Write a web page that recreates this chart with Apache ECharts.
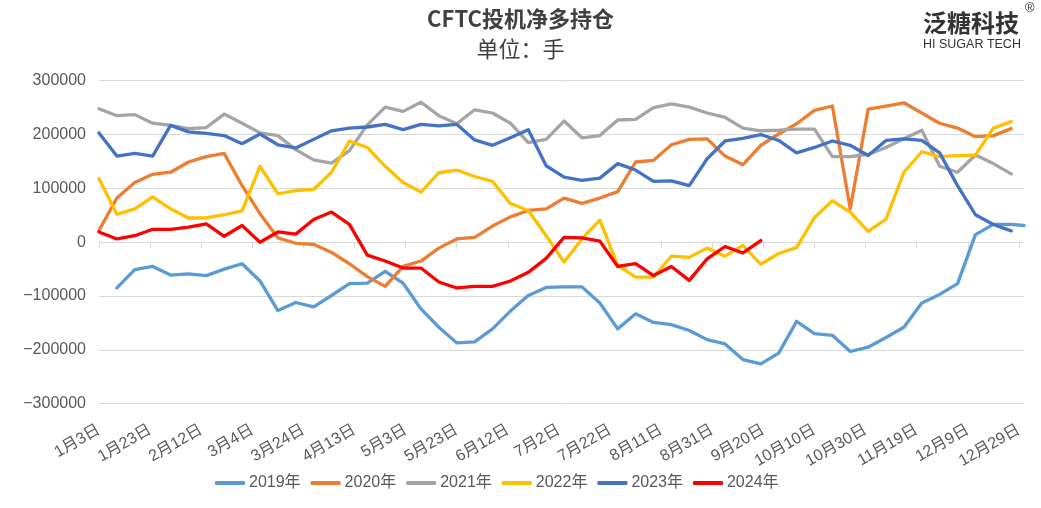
<!DOCTYPE html>
<html>
<head>
<meta charset="utf-8">
<script src="https://cdn.jsdelivr.net/npm/echarts@6/dist/echarts.min.js"></script>
<style>
html,body{margin:0;padding:0;background:#fff;}
#chart{width:1041px;height:508px;}
</style>
</head>
<body>
<div id="chart"></div>
<script>
// ---- data (day offsets from 1月3日; weekly reports) ----
const weekIndex = Array.from({length: 52}, (_, i) => i);
const weekDay = weekIndex.map(i => i * 7);
const extraDay2019 = 362;

const tickDays = [0,20,40,60,80,100,120,140,160,180,200,220,240,260,280,300,320,340,360];
const tickLabels = ['1月3日','1月23日','2月12日','3月4日','3月24日','4月13日','5月3日','5月23日','6月12日','7月2日','7月22日','8月11日','8月31日','9月20日','10月10日','10月30日','11月19日','12月9日','12月29日'];

const years = ['2019年','2020年','2021年','2022年','2023年','2024年'];

// 2019 starts at the 2nd week, and has one extra point at the end
const v2019 = [null,-85000,-51000,-45000,-61000,-59000,-62000,-50000,-40000,-72000,-127000,-112000,-120000,-99000,-77000,-76000,-54000,-76000,-124000,-158000,-187000,-185000,-161000,-128000,-99000,-84000,-83000,-83000,-113000,-161000,-133000,-149000,-153000,-164000,-181000,-189000,-218000,-226000,-206000,-147000,-170000,-173000,-203000,-195000,-177000,-158000,-113000,-97000,-77000,14000,33000,33000];
const v2019Extra = 31000;
const v2020 = [22000,82000,111000,126000,130000,149000,159000,165000,105000,53000,8000,-2000,-4000,-19000,-40000,-64000,-82000,-45000,-35000,-11000,6000,9000,30000,47000,59000,62000,82000,72000,82000,94000,149000,152000,181000,191000,192000,160000,144000,180000,201000,220000,245000,253000,62000,247000,253000,259000,240000,221000,212000,196000,198000,211000];
const v2021 = [248000,235000,237000,221000,217000,211000,213000,238000,221000,203000,198000,172000,153000,147000,170000,218000,251000,243000,260000,235000,220000,246000,240000,221000,185000,191000,225000,194000,198000,227000,228000,250000,257000,251000,240000,232000,212000,207000,208000,210000,210000,159000,159000,163000,176000,192000,208000,141000,130000,162000,146000,127000];
const v2022 = [118000,52000,62000,84000,62000,45000,45000,51000,58000,141000,90000,96000,98000,130000,188000,176000,141000,111000,93000,129000,134000,122000,113000,72000,59000,12000,-37000,6000,41000,-43000,-65000,-65000,-26000,-28000,-11000,-26000,-6000,-41000,-21000,-10000,46000,77000,56000,20000,43000,130000,168000,159000,161000,162000,212000,224000];
const v2023 = [203000,160000,165000,160000,217000,205000,202000,198000,183000,201000,181000,175000,191000,207000,212000,214000,219000,209000,219000,216000,219000,190000,180000,194000,209000,142000,121000,115000,119000,146000,134000,113000,114000,105000,155000,188000,193000,200000,189000,166000,176000,188000,180000,161000,189000,192000,189000,166000,105000,51000,33000,21000];
const v2024 = [19000,6000,12000,24000,24000,28000,34000,11000,31000,0,19000,15000,42000,56000,33000,-24000,-35000,-48000,-48000,-74000,-85000,-82000,-82000,-72000,-56000,-30000,9000,8000,2000,-45000,-40000,-62000,-45000,-71000,-31000,-8000,-20000,3000];

const colors = ['#5B9BD5','#ED7D31','#A5A5A5','#FFC000','#4472C4','#FF0000'];

function pairs(vals){
  const out = [];
  vals.forEach((v, i) => { if (v !== null) out.push([weekDay[i], v]); });
  return out;
}
const seriesValues = [
  pairs(v2019).concat([[extraDay2019, v2019Extra]]),
  pairs(v2020), pairs(v2021), pairs(v2022), pairs(v2023), pairs(v2024)
];

const FONT = '"Liberation Sans", "Noto Sans CJK SC", sans-serif';
const CJK = '"Noto Sans CJK SC", sans-serif';

const chart = echarts.init(document.getElementById('chart'), null, {renderer: 'canvas'});
chart.setOption({
  animation: false,
  backgroundColor: '#ffffff',
  color: colors,
  title: [
    {text: 'CFTC投机净多持仓', left: 'center', top: 3,
     textStyle: {fontSize: 22, fontWeight: 'bold', color: '#404040', fontFamily: CJK}},
    {text: '单位：手', left: 'center', top: 33,
     textStyle: {fontSize: 22, fontWeight: 'normal', color: '#404040', fontFamily: CJK}}
  ],
  graphic: [
    {type: 'text', left: 923, top: 11, style: {text: '泛糖科技', font: 'bold 24px "Noto Sans CJK SC", sans-serif', fill: '#333333'}},
    {type: 'text', left: 923, top: 38, style: {text: 'HI SUGAR TECH', font: '12.5px "Liberation Sans", sans-serif', fill: '#333333'}},
    {type: 'text', left: 1025, top: 2, style: {text: '®', font: '13px "Liberation Sans", sans-serif', fill: '#333333'}}
  ],
  grid: {left: 99, right: 17, top: 80.7, bottom: 104.3, containLabel: false, outerBoundsMode: 'none'},
  legend: {
    data: years, left: 210, top: 470, itemWidth: 30, itemHeight: 4, itemGap: 10,
    icon: 'roundRect',
    textStyle: {color: '#595959', fontSize: 16, fontFamily: FONT, padding: [0,0,0,-1]}
  },
  xAxis: {
    type: 'value', min: 0, max: 362, interval: 20,
    axisLine: {show: true, onZero: true, lineStyle: {color: '#d9d9d9', width: 1}},
    axisTick: {show: true, length: 6, customValues: tickDays, lineStyle: {color: '#d9d9d9'}},
    axisLabel: {
      customValues: tickDays, rotate: 30, margin: 25,
      color: '#595959', fontSize: 16, fontFamily: FONT,
      formatter: v => tickLabels[tickDays.indexOf(v)] || ''
    },
    splitLine: {show: false}
  },
  yAxis: {
    type: 'value', min: -300000, max: 300000, interval: 100000,
    axisLine: {show: false}, axisTick: {show: false},
    axisLabel: {color: '#595959', fontSize: 16, fontFamily: FONT, margin: 13,
      formatter: v => v < 0 ? '\u2212' + Math.abs(v) : String(v)},
    splitLine: {lineStyle: {color: '#d9d9d9', width: 1}}
  },
  series: years.map((name, k) => ({
    name: name, type: 'line', data: seriesValues[k],
    showSymbol: false, symbol: 'none', smooth: false,
    lineStyle: {width: 3.3, color: colors[k], cap: 'round', join: 'round'},
    itemStyle: {color: colors[k]}
  }))
});
</script>
</body>
</html>
